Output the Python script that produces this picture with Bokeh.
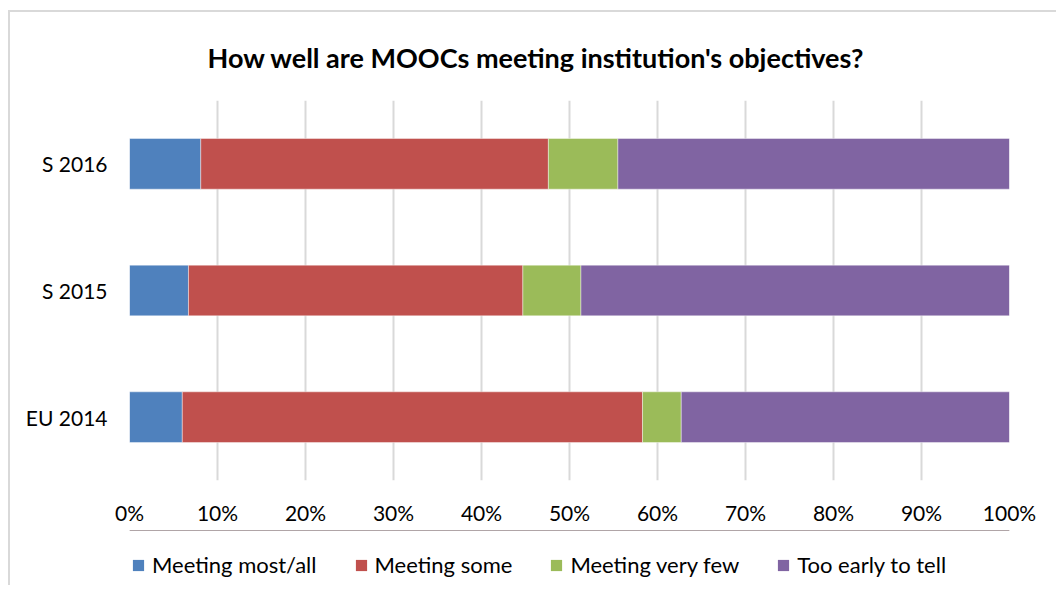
from bokeh.plotting import figure
from bokeh.layouts import column
from bokeh.models import FactorRange, Range1d, FixedTicker, PrintfTickFormatter, Legend, LegendItem, Title
from bokeh.embed import file_html
from bokeh.resources import INLINE

categories = ["EU 2014", "S 2015", "S 2016"]
series = ["Meeting most/all", "Meeting some", "Meeting very few", "Too early to tell"]
most_all = [6.0, 6.7, 8.1]
some = [52.3, 38.0, 39.5]
very_few = [4.4, 6.6, 7.9]
too_early = [37.3, 48.7, 44.5]
colors = ["#4f81bd", "#c0504d", "#9bbb59", "#8064a2"]
ticks = list(range(0, 101, 10))

FONT = "Lato"

data = {"cat": categories, "most_all": most_all, "some": some,
        "very_few": very_few, "too_early": too_early}

p = figure(frame_width=880, frame_height=380, y_range=FactorRange(*categories),
           x_range=Range1d(0, 100), output_backend="svg", toolbar_location=None,
           min_border_left=119, min_border_right=47, min_border_top=86, min_border_bottom=50)
p.outline_line_color = None

rs = p.hbar_stack(["most_all", "some", "very_few", "too_early"], y="cat", height=0.4,
                  color=colors, line_color="white", line_width=0.6, line_alpha=0.7, source=data)

p.xaxis.ticker = FixedTicker(ticks=ticks)
p.xaxis.formatter = PrintfTickFormatter(format="%d%%")
for ax in (p.xaxis, p.yaxis):
    ax.axis_line_color = None
    ax.major_tick_line_color = None
    ax.minor_tick_line_color = None
    ax.major_label_text_font = FONT
    ax.major_label_text_font_size = "21px"
    ax.major_label_text_color = "#000000"
p.xaxis.major_label_standoff = 13
p.yaxis.major_label_standoff = 16
p.ygrid.grid_line_color = None
p.xgrid.grid_line_color = "#d9d9d9"
p.xgrid.grid_line_width = 2

title = Title(text="How well are MOOCs meeting institution's objectives?", align="left",
              offset=78, text_font=FONT, text_font_size="27px", text_font_style="bold",
              text_color="#000000", standoff=53)
p.add_layout(title, "above")

# legend strip below the chart (its frame is aligned with the chart frame by the column)
lg = figure(width=1046, height=55, output_backend="svg", toolbar_location=None,
            x_axis_type=None, y_axis_type=None, min_border=0,
            x_range=Range1d(0, 1), y_range=Range1d(0, 1))
lg.outline_line_color = None
lg.grid.visible = False
# legend swatches only (placed outside the visible range)
lrs = [lg.hbar(y=[5], left=[0], right=[1], height=0.5, fill_color=c, line_color=None) for c in colors]
legend = Legend(items=[LegendItem(label=s, renderers=[r]) for s, r in zip(series, lrs)],
                orientation="horizontal", location=(2, 7), border_line_color=None,
                background_fill_alpha=0, padding=0, margin=0, spacing=37, label_standoff=7,
                glyph_width=14, glyph_height=14, label_text_font=FONT,
                label_text_font_size="22px", label_text_color="#000000")
lg.add_layout(legend, "center")

layout = column(p, lg, spacing=0)
layout.styles = {"margin-left": "8px", "margin-top": "10px",
                 "border-top": "2px solid #d9d9d9", "border-left": "2px solid #d9d9d9"}

open("out.html", "w").write(file_html(layout, INLINE))
